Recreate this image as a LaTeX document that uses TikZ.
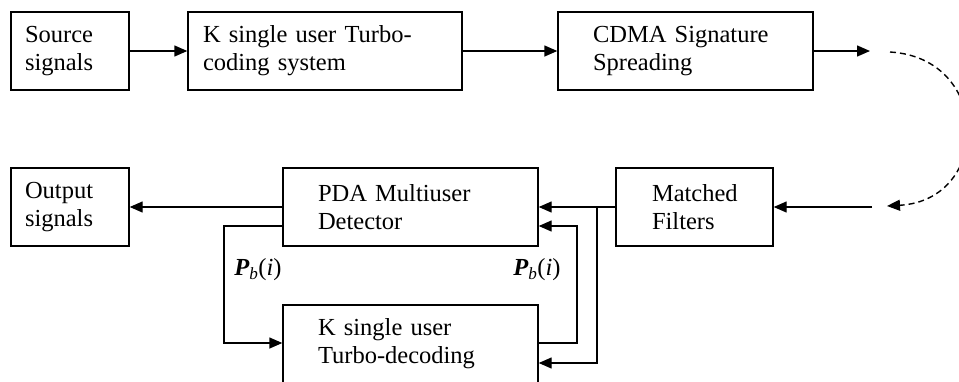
\documentclass[tikz,border=0pt]{standalone}
\usepackage{fontspec}
\setmainfont{Liberation Serif}
\usetikzlibrary{arrows.meta}
\begin{document}
\begin{tikzpicture}[x=1pt,y=-1pt,
  line width=1.4pt,
  block/.style={draw, rectangle, align=left, anchor=center,
    minimum height=78pt, inner ysep=0pt,
    font=\fontsize{24.5}{28}\selectfont},
  arr/.style={-{Triangle[length=13pt,width=11pt]}},
  link/.style={dash pattern=on 6pt off 4pt},
  lbl/.style={font=\fontsize{24.5}{26}\selectfont, inner sep=0pt}
]
\useasboundingbox (0,0) rectangle (959,381);
\clip (0,0) rectangle (959,381);

% top row: transmitter chain
\node[block, minimum width=118pt, text width=90pt, inner xsep=14pt] (src) at (70,51) {Source\\signals};
\node[block, minimum width=274pt, text width=244pt, inner xsep=15pt] (enc) at (325,51) {K single user Turbo-\\coding system};
\node[block, minimum width=255pt, text width=185pt, inner xsep=35pt] (cdma) at (685.5,51) {CDMA Signature\\Spreading};

% bottom rows: receiver chain
\node[block, minimum width=118pt, text width=90pt, inner xsep=14pt] (out) at (70,207) {Output\\signals};
\node[block, minimum width=255pt, text width=185pt, inner xsep=35pt] (pda) at (410.5,207) {PDA Multiuser\\Detector};
\node[block, minimum width=157pt, text width=85pt, inner xsep=36pt] (mf) at (694.5,207) {Matched\\Filters};
\node[block, minimum width=255pt, text width=185pt, inner xsep=35pt] (dec) at (410.5,344) {K single user\\Turbo-decoding};

% channel ends
\coordinate (tx) at (870,51);
\coordinate (ch1) at (890,52);
\coordinate (ch2) at (887,206);
\coordinate (rx) at (872,207);

% junctions and routing points
\coordinate (j) at (597,207);
\coordinate (fbR) at (577,226);
\coordinate (fbL) at (224,226);

% forward links
\draw[arr] (src) -- (enc);
\draw[arr] (enc) -- (cdma);
\draw[arr] (cdma.east) -- (tx);
\draw[link, arr] (ch1) .. controls (992,58) and (992,200) .. (ch2);
\draw[arr] (rx) -- (mf.east);
\draw[arr] (mf.west) -- (pda.east);
\draw[arr] (pda.west) -- (out.east);

% received signal to the decoder
\draw[arr] (j) |- (dec.east |- 0,363);

% soft-information exchange
\draw[arr] (dec.east |- 0,343) -| (fbR) -- (pda.east |- fbR);
\draw[arr] (pda.west |- fbL) -| (fbL |- 0,343) -- (dec.west |- 0,343);

% probability labels
\node[lbl] (pl) at (258,270) {{\bfseries\itshape P}\textsubscript{\itshape b}(\textit{i})};
\node[lbl] (pr) at (537,270) {{\bfseries\itshape P}\textsubscript{\itshape b}(\textit{i})};
\end{tikzpicture}
\end{document}
